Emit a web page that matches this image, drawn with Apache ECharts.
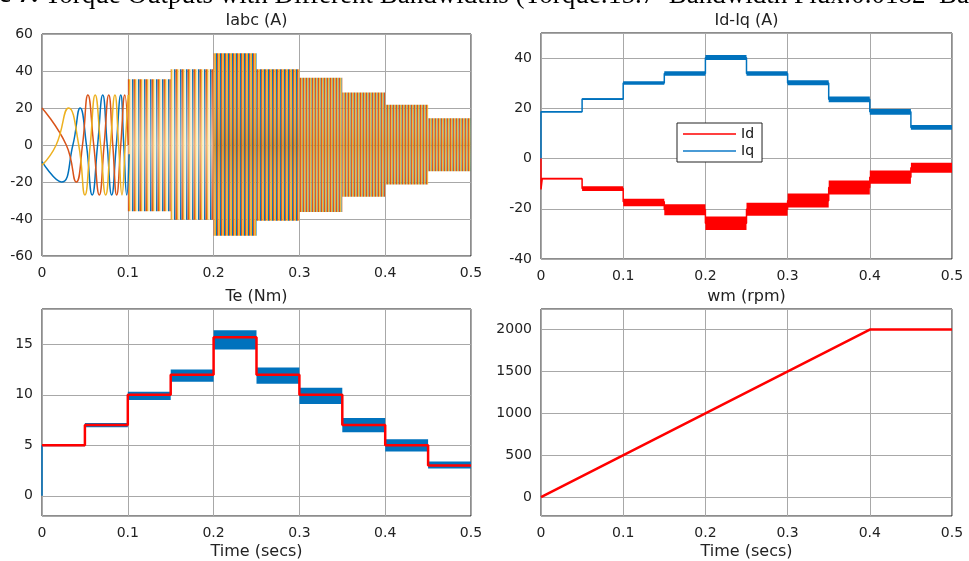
<!DOCTYPE html>
<html>
<head>
<meta charset="utf-8">
<title>Torque outputs</title>
<script src="https://cdn.jsdelivr.net/npm/echarts@6/dist/echarts.min.js"></script>
<style>
html,body{margin:0;padding:0;background:#fff;}
#main{width:969px;height:561px;}
</style>
</head>
<body>
<div id="main"></div>
<script>
// step boundaries of the load profile (s)
var stepT = [0, 0.05, 0.1, 0.15, 0.2, 0.25, 0.3, 0.35, 0.4, 0.45, 0.5];

// Id / Iq (A): centre and ripple band per step
var iqMid = [18.6, 23.7, 30.1, 33.9, 40.1, 33.9, 30.1, 23.6, 18.6, 12.4];
var iqLo  = [18.3, 23.3, 29.4, 33.0, 39.2, 33.0, 29.2, 22.4, 17.4, 11.5];
var iqHi  = [18.9, 24.0, 30.8, 34.8, 41.2, 34.8, 31.2, 24.7, 19.7, 13.4];
var idMid = [-7.9, -11.9, -17.2, -20.3, -25.8, -20.2, -16.8, -11.5, -7.4, -3.7];
var idLo  = [-8.2, -12.9, -19.0, -22.6, -28.5, -22.8, -19.5, -14.3, -10.0, -5.7];
var idHi  = [-7.6, -11.0, -16.0, -18.2, -23.1, -17.6, -13.9, -8.7, -4.8, -1.7];
var idStartT = [0, 0, 0.0015];
var idStartV = [0, -12.3, -8];

// Te (Nm)
var teRef = [5, 7, 10, 12, 15.7, 12, 10, 7, 5, 3];
var teLo  = [4.9, 6.8, 9.5, 11.3, 14.5, 11.1, 9.1, 6.3, 4.4, 2.7];
var teHi  = [5.1, 7.2, 10.3, 12.5, 16.4, 12.7, 10.7, 7.7, 5.6, 3.4];
var teStartV = [0, 5];

// wm (rpm)
var wmT = [0, 0.4, 0.5];
var wmV = [0, 2000, 2000];

// Iabc (A): first cycles, peaks / zero crossings read per phase
var iaT = [0, 0.0226, 0.0360, 0.0445, 0.0518, 0.0585, 0.0648, 0.0708, 0.0760, 0.0812, 0.0866, 0.0918, 0.0953, 0.0988, 0.1015];
var iaV = [-9, -20, 0, 20, 0, -27, 0, 27, 0, -27, 0, 27, 0, -27, -5];
var ibT = [0, 0.0283, 0.040, 0.0472, 0.0535, 0.0603, 0.0668, 0.0724, 0.0778, 0.0825, 0.0870, 0.0918, 0.0965, 0.1005];
var ibV = [20, 0, -20, 0, 27, 0, -27, 0, 27, 0, -27, 0, 27, 0];
var icT = [0, 0.0165, 0.031, 0.0428, 0.050, 0.0562, 0.0620, 0.0683, 0.0742, 0.0797, 0.0850, 0.0893, 0.0932, 0.0970, 0.1005];
var icV = [-11, 0, 20, 0, -27, 0, 27, 0, -27, 0, 27, 0, -27, 0, 27];
// Iabc envelope once the waveform gets dense
var envT  = [0.1, 0.15, 0.2, 0.25, 0.3, 0.35, 0.4, 0.45, 0.5];
var envHi = [35.6, 40.9, 49.6, 40.9, 36.4, 28.4, 21.8, 14.5];
var envLo = [-35.8, -40.4, -49.1, -40.9, -36.2, -28.0, -21.3, -14.2];

var BLUE = '#0072BD', ORANGE = '#D95319', YELLOW = '#EDB120', RED = '#FF0000';
var FONT = 'DejaVu Sans';

function pairs(ts, vs) {
    var out = [];
    for (var i = 0; i < ts.length; i++) out.push([ts[i], vs[i]]);
    return out;
}
function stepLine(vals) {
    var out = [];
    for (var i = 0; i < vals.length; i++) out.push([stepT[i], vals[i]]);
    out.push([stepT[stepT.length - 1], vals[vals.length - 1]]);
    return out;
}
function bandRows(ts, lo, hi) {
    var out = [];
    for (var i = 0; i < lo.length; i++) out.push([ts[i], ts[i + 1], lo[i], hi[i]]);
    return out;
}

// vertical stripe tiles for the dense three phase waveform
function stripes(w, parts) {
    var c = document.createElement('canvas');
    c.width = w; c.height = 4;
    var g = c.getContext('2d');
    for (var i = 0; i < parts.length; i++) {
        g.fillStyle = parts[i][2];
        g.fillRect(parts[i][0], 0, parts[i][1] - parts[i][0], 4);
    }
    return {image: c, repeat: 'repeat'};
}
var patA = stripes(6, [[0, 1.5, BLUE], [1.5, 3, ORANGE], [3, 4.5, YELLOW], [4.5, 6, '#f7ead0']]);
var patB = stripes(4, [[0, 1, BLUE], [1, 2.5, ORANGE], [2.5, 4, YELLOW]]);
var patC = stripes(3, [[0, 1.2, ORANGE], [1.2, 2.6, YELLOW], [2.6, 3, BLUE]]);

function solidBand(color) {
    return function (params, api) {
        var a = api.coord([api.value(0), api.value(3)]);
        var b = api.coord([api.value(1), api.value(2)]);
        return {type: 'rect', shape: {x: a[0], y: a[1], width: b[0] - a[0], height: Math.max(1, b[1] - a[1])},
            style: {fill: color}};
    };
}
function stripeBand(params, api) {
    var t0 = api.value(0);
    var a = api.coord([t0, api.value(3)]);
    var b = api.coord([api.value(1), api.value(2)]);
    var shape = {x: a[0], y: a[1], width: b[0] - a[0], height: b[1] - a[1]};
    var pat = t0 < 0.195 ? patA : (t0 < 0.295 ? patB : patC);
    var mid = t0 < 0.195 ? 'rgba(255,244,214,0.55)' : (t0 < 0.295 ? 'rgba(170,110,40,0.35)' : 'rgba(225,140,40,0.25)');
    return {type: 'group', children: [
        {type: 'rect', shape: shape, style: {fill: pat}},
        {type: 'rect', shape: shape, style: {fill: new echarts.graphic.LinearGradient(0, 0, 0, 1, [
            {offset: 0, color: 'rgba(255,255,255,0)'},
            {offset: 0.5, color: mid},
            {offset: 1, color: 'rgba(255,255,255,0)'}])}}
    ]};
}

var grids = [
    {left: 42, top: 34, width: 429, height: 222},
    {left: 541, top: 33, width: 411, height: 226},
    {left: 42, top: 309, width: 429, height: 207},
    {left: 541, top: 309, width: 411, height: 207}
];
grids.forEach(function (g) {
    g.show = true; g.borderColor = '#1a1a1a'; g.borderWidth = 1; g.backgroundColor = '#fff';
});

var splitLine = {show: true, lineStyle: {color: '#a8a8a8', width: 1}};
var labelStyle = {color: '#222', fontFamily: FONT, fontSize: 14};

function xAxis(i, withName) {
    return {
        type: 'value', gridIndex: i, min: 0, max: 0.5, interval: 0.1,
        axisLine: {show: false}, axisTick: {show: false}, splitLine: splitLine,
        axisLabel: Object.assign({margin: 10}, labelStyle),
        name: withName ? 'Time (secs)' : '', nameLocation: 'middle', nameGap: 28,
        nameTextStyle: {color: '#222', fontFamily: FONT, fontSize: 16}
    };
}
function yAxis(i, min, max, showMin, showMax) {
    return {
        type: 'value', gridIndex: i, min: min, max: max, splitNumber: 5,
        axisLine: {show: false}, axisTick: {show: false}, splitLine: splitLine,
        axisLabel: Object.assign({margin: 9, showMinLabel: showMin, showMaxLabel: showMax,
            formatter: function (v) { return String(v); }}, labelStyle)
    };
}

function title(text, x, y) {
    return {text: text, left: x, top: y, textAlign: 'center', padding: 0,
        textStyle: {color: '#222', fontFamily: FONT, fontSize: 16, fontWeight: 'normal'}};
}

var chart = echarts.init(document.getElementById('main'), null, {renderer: 'canvas'});
chart.setOption({
    animation: false,
    backgroundColor: '#fff',
    title: [
        title('Iabc (A)', 256.5, 13),
        title('Id-Iq (A)', 746.5, 13),
        title('Te (Nm)', 256.5, 289),
        title('wm (rpm)', 746.5, 289)
    ],
    graphic: [{
        type: 'text', x: -65, y: 9, silent: true,
        style: {
            text: '{b|Figure 7.} Torque Outputs with Different Bandwidths (Torque:15.7  Bandwidth Flux:0.0182  Ban',
            verticalAlign: 'bottom', fontFamily: 'Liberation Serif', fontSize: 27, fill: '#000',
            rich: {b: {fontWeight: 'bold', fontFamily: 'Liberation Serif', fontSize: 27}}
        }
    }],
    legend: {
        data: [{name: 'Id', itemStyle: {color: '#ff4040'}}, {name: 'Iq', itemStyle: {color: '#4a9bd6'}}],
        orient: 'vertical', left: 677, top: 123, itemGap: 3,
        icon: 'rect', itemWidth: 53, itemHeight: 2,
        padding: [4, 8, 4, 6], borderColor: '#222', borderWidth: 1, backgroundColor: '#fff',
        textStyle: {color: '#111', fontFamily: FONT, fontSize: 14}
    },
    grid: grids,
    xAxis: [xAxis(0, false), xAxis(1, false), xAxis(2, true), xAxis(3, true)],
    yAxis: [
        yAxis(0, -60, 60, true, true),
        yAxis(1, -40, 50, true, false),
        yAxis(2, -2, 18.5, false, false),
        yAxis(3, -225, 2245, false, false)
    ],
    series: [
        {type: 'line', xAxisIndex: 0, yAxisIndex: 0, data: pairs(iaT, iaV), smooth: 0.5,
            symbol: 'none', lineStyle: {color: BLUE, width: 1.5}},
        {type: 'line', xAxisIndex: 0, yAxisIndex: 0, data: pairs(ibT, ibV), smooth: 0.5,
            symbol: 'none', lineStyle: {color: ORANGE, width: 1.5}},
        {type: 'line', xAxisIndex: 0, yAxisIndex: 0, data: pairs(icT, icV), smooth: 0.5,
            symbol: 'none', lineStyle: {color: YELLOW, width: 1.5}},
        {type: 'custom', xAxisIndex: 0, yAxisIndex: 0, clip: true, renderItem: stripeBand,
            encode: {x: [0, 1], y: [2, 3]}, data: bandRows(envT, envLo, envHi)},

        {type: 'custom', xAxisIndex: 1, yAxisIndex: 1, clip: true, renderItem: solidBand(BLUE),
            encode: {x: [0, 1], y: [2, 3]}, data: bandRows(stepT, iqLo, iqHi)},
        {type: 'custom', xAxisIndex: 1, yAxisIndex: 1, clip: true, renderItem: solidBand(RED),
            encode: {x: [0, 1], y: [2, 3]}, data: bandRows(stepT, idLo, idHi)},
        {name: 'Iq', type: 'line', xAxisIndex: 1, yAxisIndex: 1, step: 'end', symbol: 'none',
            data: [[0, 0]].concat(stepLine(iqMid)), lineStyle: {color: BLUE, width: 1.5}, itemStyle: {color: BLUE}},
        {name: 'Id', type: 'line', xAxisIndex: 1, yAxisIndex: 1, step: 'end', symbol: 'none',
            data: pairs(idStartT, idStartV).concat(stepLine(idMid).slice(1)), lineStyle: {color: RED, width: 1.5},
            itemStyle: {color: RED}},

        {type: 'custom', xAxisIndex: 2, yAxisIndex: 2, clip: true, renderItem: solidBand(BLUE),
            encode: {x: [0, 1], y: [2, 3]}, data: bandRows(stepT, teLo, teHi)},
        {type: 'line', xAxisIndex: 2, yAxisIndex: 2, symbol: 'none', data: pairs([0, 0], teStartV),
            lineStyle: {color: BLUE, width: 1.5}},
        {type: 'line', xAxisIndex: 2, yAxisIndex: 2, step: 'end', symbol: 'none', data: stepLine(teRef),
            lineStyle: {color: RED, width: 2.5}},

        {type: 'line', xAxisIndex: 3, yAxisIndex: 3, symbol: 'none', data: pairs(wmT, wmV),
            lineStyle: {color: RED, width: 2.5}}
    ]
});
</script>
</body>
</html>
